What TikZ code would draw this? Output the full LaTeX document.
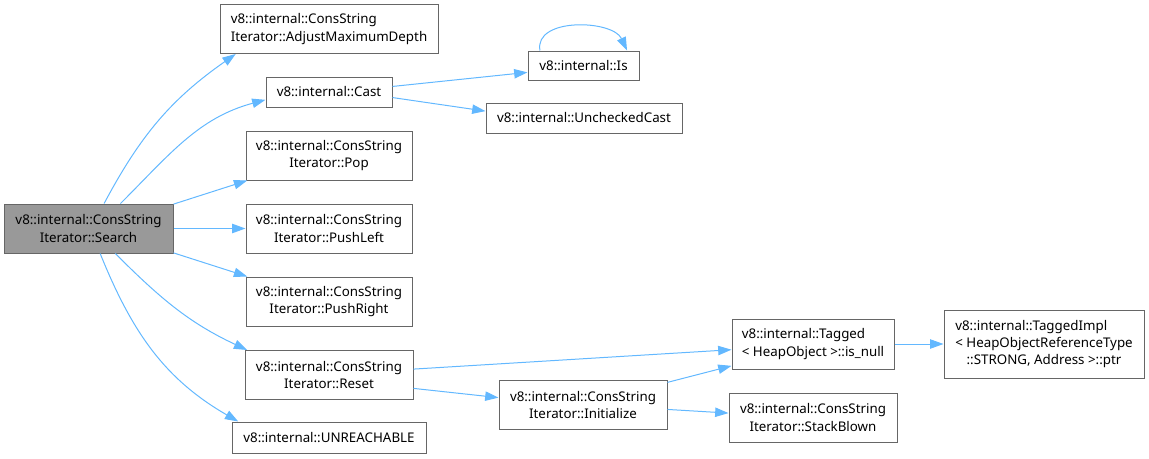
\documentclass[tikz,border=0pt]{standalone}
\usepackage{fontspec}
\setmainfont{Noto Sans}
\usepackage{calc}
\usepackage{tikz}
\usetikzlibrary{arrows.meta,calc}
\definecolor{edgeblue}{HTML}{63B8FF}
\definecolor{boxgray}{HTML}{666666}
\definecolor{callerfill}{HTML}{999999}
% first line set flush left against a longer second line
\newcommand{\flushfirst}[2]{\makebox[\widthof{#2}][l]{#1}}

\begin{document}
\begin{tikzpicture}[
  x=0.75pt,y=-0.75pt,
  fn/.style={draw=boxgray,fill=white,line width=0.75pt,inner sep=2pt,align=center,font=\fontsize{10}{13}\selectfont},
  twoline/.style={fn,minimum height=36.75pt},
  oneline/.style={fn,minimum height=22.5pt},
  call/.style={draw=edgeblue,line width=0.75pt,-{Triangle[length=10pt,width=7pt]}}
]
\useasboundingbox (0,0) rectangle (1149,458);

% caller
\node[twoline,fill=callerfill,minimum width=126.75pt] (search) at (88.5,228.5) {v8::internal::ConsString\\Iterator::Search};

% direct callees
\node[twoline,align=left,minimum width=163.5pt] (adjust) at (329,29) {v8::internal::ConsString\\Iterator::AdjustMaximumDepth};
\node[oneline,minimum width=94.5pt] (cast) at (329,92) {v8::internal::Cast};
\node[twoline,minimum width=124.5pt] (pop) at (329,155.5) {v8::internal::ConsString\\Iterator::Pop};
\node[twoline,minimum width=124.5pt] (pushleft) at (329,228.5) {v8::internal::ConsString\\Iterator::PushLeft};
\node[twoline,minimum width=124.5pt] (pushright) at (329,301.5) {v8::internal::ConsString\\Iterator::PushRight};
\node[twoline,minimum width=126pt] (reset) at (329,375) {v8::internal::ConsString\\Iterator::Reset};
\node[oneline,minimum width=145.5pt,minimum height=23.25pt] (unreach) at (329,437.5) {v8::internal::UNREACHABLE};

% second level
\node[oneline,minimum width=83.25pt,minimum height=21.75pt] (is) at (583.5,65.5) {v8::internal::Is};
\node[oneline,minimum width=147pt] (unchecked) at (584,118) {v8::internal::UncheckedCast};
\node[twoline,minimum width=126pt] (init) at (583,405) {v8::internal::ConsString\\Iterator::Initialize};
\node[twoline,align=left,minimum width=121.5pt,minimum height=37.5pt] (isnull) at (813,344) {v8::internal::Tagged\\< HeapObject >::is\_null};
\node[twoline,minimum width=126pt] (blown) at (813,417.5) {v8::internal::ConsString\\Iterator::StackBlown};
\node[fn,minimum width=150pt,minimum height=51pt] (ptr) at (1044,344) {\flushfirst{v8::internal::TaggedImpl}{< HeapObjectReferenceType}\\< HeapObjectReferenceType\\::STRONG, Address >::ptr};

% calls from Search
\draw[call] (search.58) to[out=62,in=215] (adjust.-165);
\draw[call] (search.38) to[out=45,in=195] (cast.187);
\draw[call] (search.16) -- (pop.197);
\draw[call] (search.east) -- (pushleft.west);
\draw[call] (search.-16) -- (pushright.163);
\draw[call] (search.-43) to[out=-45,in=155] (reset.163);
\draw[call] (search.-65) to[out=-68,in=150] (unreach.170);

% calls further down
\draw[call] (cast.5) -- (is.187);
\draw[call] (cast.-5) -- (unchecked.176);
\draw[call] (is.161) to[out=100,in=115,looseness=1.0] (is.19);
\draw[call] (reset.4) -- (isnull.184);
\draw[call] (reset.-9) -- (init.175);
\draw[call] (init.15) -- (isnull.195);
\draw[call] (init.-3) -- (blown.177);
\draw[call] (isnull.east) -- (ptr.west);
\end{tikzpicture}
\end{document}
